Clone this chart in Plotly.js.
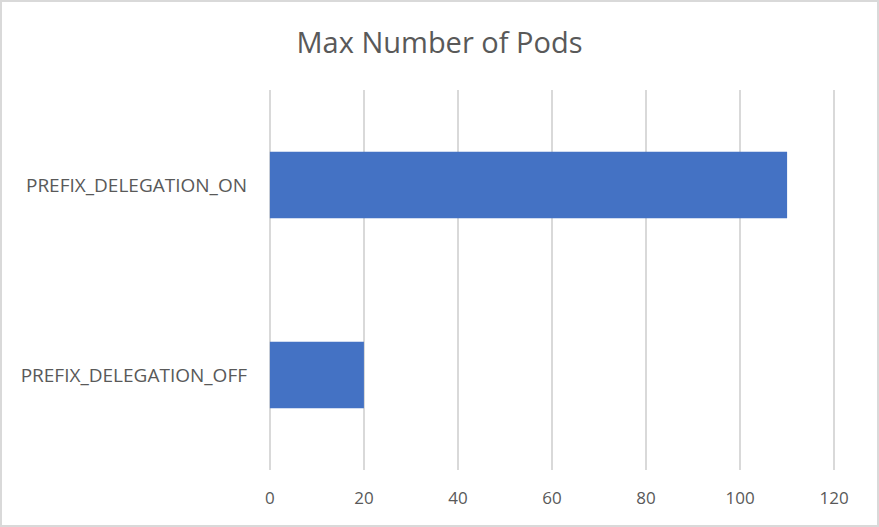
<!DOCTYPE html>
<html>
<head>
<meta charset="utf-8">
<script src="https://cdn.plot.ly/plotly-3.0.1.min.js"></script>
<style>
    html, body { margin: 0; padding: 0; background: #fff; }
    #chart { width: 879px; height: 527px; box-sizing: border-box; border: 2px solid #d9d9d9; }
</style>
</head>
<body>
<div id="chart"></div>
<script>
const categories = ['PREFIX_DELEGATION_OFF', 'PREFIX_DELEGATION_ON'];
const maxPods = [20, 110];
const tickValues = [0, 20, 40, 60, 80, 100, 120];

const trace = {
    type: 'bar',
    orientation: 'h',
    y: categories,
    x: maxPods,
    marker: { color: '#4472C4' },
    hoverinfo: 'x+y'
};

// small padding on the range so the 0 and 120 gridlines are not dropped at the edges
const layout = {
    width: 875,
    height: 523,
    paper_bgcolor: '#ffffff',
    plot_bgcolor: '#ffffff',
    font: { family: 'Open Sans, Liberation Sans, sans-serif', color: '#595959' },
    title: {
        text: 'Max Number of Pods',
        font: { size: 29, color: '#595959' },
        x: 0.5,
        xanchor: 'center',
        y: 0.922,
        yanchor: 'middle'
    },
    xaxis: {
        range: [-0.4, 120.4],
        tickvals: tickValues,
        tickfont: { size: 17, color: '#595959' },
        showgrid: true,
        gridcolor: '#d9d9d9',
        gridwidth: 1.5,
        zeroline: false,
        showline: false,
        ticks: '',
        ticklabelstandoff: 16,
        fixedrange: true
    },
    yaxis: {
        tickfont: { size: 19, color: '#595959' },
        showgrid: false,
        zeroline: false,
        showline: false,
        ticks: '',
        ticklabelstandoff: 20,
        fixedrange: true
    },
    bargap: 0.65,
    margin: { t: 88, b: 55, l: 266, r: 41 },
    showlegend: false
};

Plotly.newPlot('chart', [trace], layout, { displayModeBar: false });
</script>
</body>
</html>
